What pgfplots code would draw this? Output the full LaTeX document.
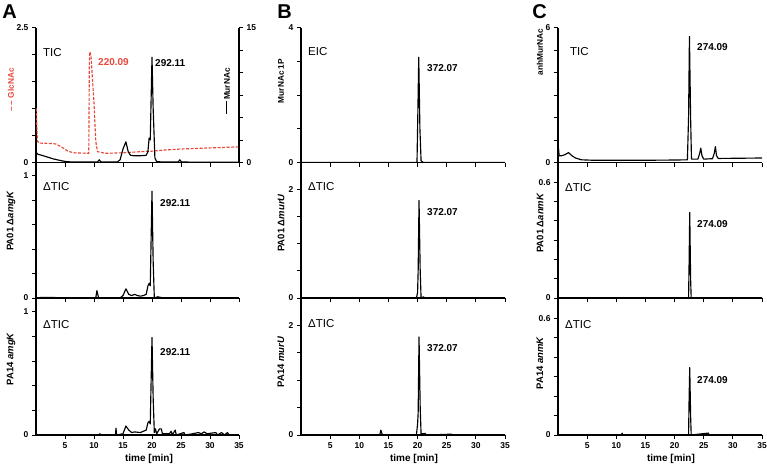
\documentclass[border=0pt]{standalone}
\usepackage{fontspec}
\setmainfont{Liberation Sans}
\usepackage{pgfplots}
\pgfplotsset{compat=1.18}
\definecolor{glcred}{RGB}{232,72,58}

\pgfplotsset{
  chrom/.style={
    scale only axis,
    width=204pt,
    anchor=south west,
    xmin=0, xmax=35,
    axis x line*=bottom,
    axis y line*=left,
    axis line style={line width=1.1pt},
    tick style={line width=0.9pt, black},
    major tick length=4pt,
    tick align=outside,
    xtick={5,10,15,20,25,30,35},
    xticklabels={},
    tick label style={font=\bfseries\fontsize{8.5}{9}\selectfont},
    every axis plot post/.append style={no markers, line width=1.15pt, line join=round},
  },
  bottomrow/.style={xticklabels={5,10,15,20,25,30,35}},
  trace/.style={black},
}
\newcommand\pk{\bfseries\fontsize{10}{12}\selectfont}
\newcommand\tc{\fontsize{11.5}{13}\selectfont}
\newcommand\yl{\bfseries\fontsize{8.3}{9}\selectfont}
\newcommand\ys{\bfseries\fontsize{9.5}{11}\selectfont}

\begin{document}
\begin{tikzpicture}
\useasboundingbox (0,0) rectangle (767pt,-466pt);

% ---------------- A, top: GlcNAc (left) and MurNAc (right)
\begin{axis}[chrom, width=203pt, height=135pt, at={(36pt,-162.5pt)},
  ymin=0, ymax=2.5, ytick={0,0.5,1,1.5,2,2.5}, yticklabels={0,,,,,2.5}]
\addplot[glcred, dash pattern=on 3pt off 1.5pt] coordinates {
 (0.05,1.0) (0.1,0.8) (0.25,0.4) (0.5,0.36) (3,0.35) (3.5,0.34) (4.5,0.28)
 (5.5,0.21) (6.5,0.18) (9.1,0.17) (9.2,1.9) (9.3,2.05) (9.5,1.95) (10.0,1.1)
 (10.3,0.4) (10.6,0.2) (12,0.17) (15,0.18) (18,0.2) (20,0.21) (22,0.23)
 (25,0.25) (30,0.27) (35,0.29)};
\end{axis}
\begin{axis}[chrom, width=203pt, height=135pt, at={(36pt,-162.5pt)},
  axis x line=none, axis y line*=right,
  ymin=0, ymax=15, ytick={0,2.5,5,7.5,10,12.5,15}, yticklabels={0,,,,,,15}]
\addplot[trace] coordinates {
 (0,1.3) (0.15,1.0) (0.4,0.9) (1,0.8) (2,0.6) (3,0.4) (4,0.25) (5,0.12)
 (6,0.06) (8,0.05) (10.6,0.05) (10.9,0.3) (11.2,0.05) (14,0.05) (14.5,0.3)
 (15,1.5) (15.5,2.3) (15.9,1.2) (16.3,0.8) (17,0.75) (18,0.75) (19,0.8)
 (19.3,1.2) (19.5,2.7) (19.7,2.5) (20,11.7) (20.2,6) (20.5,0.5) (20.8,0.1)
 (22,0.05) (24.5,0.05) (24.8,0.3) (25.1,0.05) (35,0.03)};
\end{axis}

% ---------------- A, middle
\begin{axis}[chrom, width=203pt, height=135.5pt, at={(36pt,-298pt)},
  ymin=0, ymax=1.11, ytick={0,0.2,0.4,0.6,0.8,1}, yticklabels={0,,,,,1}]
\addplot[trace] coordinates {
 (0,0) (1,0.005) (9,0) (10.3,0) (10.5,0.06) (10.8,0) (14.5,0) (15,0.02)
 (15.5,0.075) (16,0.03) (16.5,0.02) (17,0.03) (17.5,0.02) (18,0.015)
 (18.5,0.02) (19,0.03) (19.3,0.1) (19.5,0.12) (19.7,0.1) (20,0.875)
 (20.2,0.3) (20.4,0) (21,0.01) (22,0) (35,0)};
\end{axis}

% ---------------- A, bottom
\begin{axis}[chrom, bottomrow, width=203pt, height=137pt, at={(36pt,-435pt)},
  ymin=0, ymax=1.11, ytick={0,0.2,0.4,0.6,0.8,1}, yticklabels={0,,,,,1}]
\addplot[trace] coordinates {
 (0,0) (10.8,0) (11,0.01) (11.2,0) (13.7,0) (13.8,0.055) (13.9,0) (15,0.01)
 (15.5,0.073) (16,0.04) (16.5,0.02) (17,0.025) (18,0.02) (18.5,0.03)
 (19,0.04) (19.3,0.1) (19.5,0.11) (19.7,0.09) (20,0.79) (20.2,0.3)
 (20.4,0.02) (20.6,0.05) (20.8,0.01) (21.3,0.05) (21.6,0.05) (21.8,0.01)
 (23,0.01) (23.3,0.03) (23.5,0) (24,0.04) (24.2,0) (25.5,0.02) (25.7,0)
 (27,0.01) (28,0.02) (28.5,0.01) (29,0.025) (29.5,0.01) (31,0.02) (31.3,0)
 (32,0.02) (32.5,0) (33,0.02) (33.3,0) (35,0)};
\end{axis}

% ---------------- B
\begin{axis}[chrom, height=135pt, at={(301pt,-162.5pt)},
  ymin=0, ymax=4, ytick={0,1,2,3,4}, yticklabels={0,,,,4}]
\addplot[trace] coordinates {
 (0,0) (19.9,0) (20.05,1.5) (20.2,3.12) (20.4,1.0) (20.6,0.05) (21,0) (35,0)};
\end{axis}
\begin{axis}[chrom, height=135.5pt, at={(301pt,-298pt)},
  ymin=0, ymax=2.5, ytick={0,0.5,1,1.5,2}, yticklabels={0,,,,2}]
\addplot[trace] coordinates {
 (0,0) (19.8,0) (20.0,0.1) (20.1,0.5) (20.25,1.8) (20.45,0.5) (20.6,0)
 (21,0.02) (21.3,0) (35,0)};
\end{axis}
\begin{axis}[chrom, bottomrow, height=137pt, at={(301pt,-435pt)},
  ymin=0, ymax=2.5, ytick={0,0.5,1,1.5,2}, yticklabels={0,,,,2}]
\addplot[trace] coordinates {
 (0,0) (13.5,0) (13.7,0.09) (13.9,0.02) (14.2,0) (19.8,0) (20,0.2)
 (20.1,0.4) (20.25,1.79) (20.45,0.5) (20.6,0.02) (21.3,0.03) (21.5,0)
 (25.8,0.015) (26,0) (35,0)};
\end{axis}

% ---------------- C
\begin{axis}[chrom, height=135pt, at={(558pt,-162.5pt)},
  ymin=0, ymax=6, ytick={0,1,2,3,4,5,6}, yticklabels={0,,,,,,6}]
\addplot[trace] coordinates {
 (0,0.86) (0.2,0.3) (0.6,0.3) (1.2,0.35) (1.8,0.44) (2.4,0.3) (3,0.2)
 (4,0.12) (6,0.1) (10,0.1) (15,0.1) (20,0.11) (22.2,0.12) (22.4,2)
 (22.55,5.6) (22.75,2) (22.9,0.15) (24,0.15) (24.3,0.4) (24.5,0.64)
 (24.7,0.3) (25,0.15) (26.5,0.17) (26.8,0.4) (27,0.71) (27.2,0.3)
 (27.5,0.18) (35,0.2)};
\end{axis}
\begin{axis}[chrom, height=135.5pt, at={(558pt,-298pt)},
  ymin=0, ymax=0.703, ytick={0,0.1,0.2,0.3,0.4,0.5,0.6}, yticklabels={0,,,,,,0.6}]
\addplot[trace] coordinates {
 (0,0) (22.4,0) (22.5,0.2) (22.6,0.444) (22.75,0.1) (22.85,0) (35,0)};
\end{axis}
\begin{axis}[chrom, bottomrow, height=137pt, at={(558pt,-435pt)},
  ymin=0, ymax=0.703, ytick={0,0.1,0.2,0.3,0.4,0.5,0.6}, yticklabels={0,,,,,,0.6}]
\addplot[trace] coordinates {
 (0,0) (10.9,0) (11,0.01) (11.1,0) (22.4,0) (22.5,0.2) (22.6,0.346)
 (22.75,0.1) (22.85,0) (25.8,0.01) (25.9,0) (35,0)};
\end{axis}

% ---------------- panel letters
\node[font=\bfseries\fontsize{20}{22}\selectfont] at (9.5pt,-11.5pt) {A};
\node[font=\bfseries\fontsize{20}{22}\selectfont] at (284.5pt,-11.5pt) {B};
\node[font=\bfseries\fontsize{20}{22}\selectfont] at (539.5pt,-12pt) {C};

% ---------------- y labels
\node[rotate=90, font=\yl, text=glcred] at (11pt,-90pt) {– – GlcNAc};
\node[rotate=90, font=\yl] at (227pt,-91pt) {\rule[0.3em]{1.5em}{0.13em}\,MurNAc};
\node[rotate=90, font=\ys] at (11pt,-221pt) {PA01 Δ\textit{amgK}};
\node[rotate=90, font=\ys] at (11pt,-359pt) {PA14 \textit{amgK}};
\node[rotate=90, font=\yl] at (281pt,-81pt) {MurNAc 1P};
\node[rotate=90, font=\ys] at (281pt,-223pt) {PA01 Δ\textit{murU}};
\node[rotate=90, font=\ys] at (281pt,-362pt) {PA14 \textit{murU}};
\node[rotate=90, font=\yl] at (540pt,-52pt) {anhMurNAc};
\node[rotate=90, font=\ys] at (540pt,-223pt) {PA01 Δ\textit{anmK}};
\node[rotate=90, font=\ys] at (540pt,-363pt) {PA14 \textit{anmK}};

% ---------------- x labels
\node[font=\bfseries\fontsize{10}{12}\selectfont] at (149pt,-459pt) {time [min]};
\node[font=\bfseries\fontsize{10}{12}\selectfont] at (414pt,-459pt) {time [min]};
\node[font=\bfseries\fontsize{10}{12}\selectfont] at (671pt,-459pt) {time [min]};

% ---------------- trace annotations
\node[anchor=west, font=\tc, inner sep=0pt] at (43pt,-53pt) {TIC};
\node[anchor=west, font=\pk, text=glcred, inner sep=0pt] at (98pt,-62pt) {220.09};
\node[anchor=west, font=\pk, inner sep=0pt] at (155pt,-63pt) {292.11};
\node[anchor=west, font=\tc, inner sep=0pt] at (43pt,-187pt) {ΔTIC};
\node[anchor=west, font=\pk, inner sep=0pt] at (160pt,-203pt) {292.11};
\node[anchor=west, font=\tc, inner sep=0pt] at (43pt,-325pt) {ΔTIC};
\node[anchor=west, font=\pk, inner sep=0pt] at (160pt,-352pt) {292.11};

\node[anchor=west, font=\tc, inner sep=0pt] at (308pt,-52pt) {EIC};
\node[anchor=west, font=\pk, inner sep=0pt] at (427pt,-68pt) {372.07};
\node[anchor=west, font=\tc, inner sep=0pt] at (308pt,-187pt) {ΔTIC};
\node[anchor=west, font=\pk, inner sep=0pt] at (427pt,-212pt) {372.07};
\node[anchor=west, font=\tc, inner sep=0pt] at (308pt,-324pt) {ΔTIC};
\node[anchor=west, font=\pk, inner sep=0pt] at (427pt,-348pt) {372.07};

\node[anchor=west, font=\tc, inner sep=0pt] at (570pt,-52pt) {TIC};
\node[anchor=west, font=\pk, inner sep=0pt] at (697pt,-47pt) {274.09};
\node[anchor=west, font=\tc, inner sep=0pt] at (565pt,-188pt) {ΔTIC};
\node[anchor=west, font=\pk, inner sep=0pt] at (697pt,-224pt) {274.09};
\node[anchor=west, font=\tc, inner sep=0pt] at (565pt,-325pt) {ΔTIC};
\node[anchor=west, font=\pk, inner sep=0pt] at (697pt,-380pt) {274.09};
\end{tikzpicture}
\end{document}
